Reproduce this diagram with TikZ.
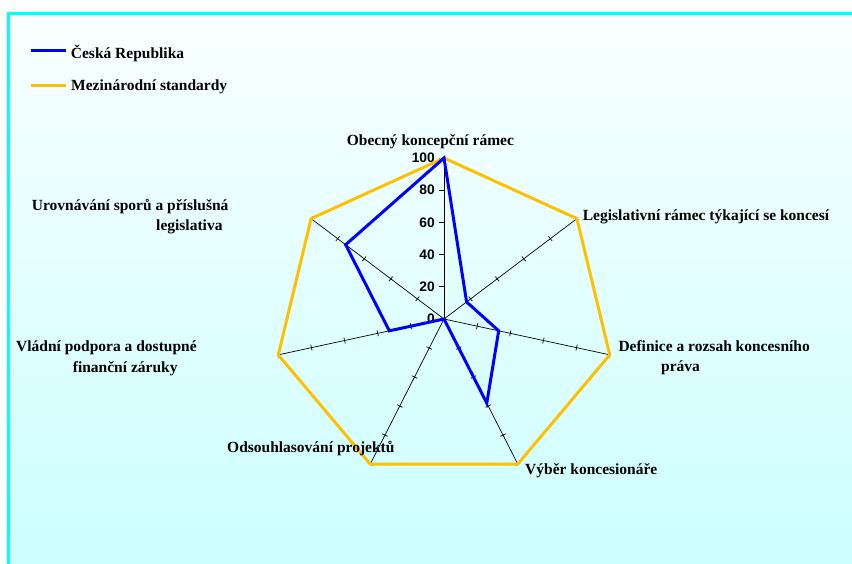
\documentclass[tikz,border=0pt]{standalone}
\usepackage{fontspec}
\setmainfont{Liberation Serif}
\newfontfamily\numfont{Liberation Sans}
\definecolor{intlyellow}{RGB}{255,192,0}
\definecolor{czblue}{RGB}{0,0,255}
\definecolor{bordercyan}{RGB}{0,255,255}
\definecolor{bgtop}{RGB}{250,255,255}
\definecolor{bgbot}{RGB}{204,255,255}
\begin{document}
\begin{tikzpicture}[x=1pt,y=-1pt,
  lab/.style={font=\fontsize{15.5}{17}\selectfont\bfseries, inner sep=0pt, anchor=base west},
  num/.style={font=\numfont\fontsize{13.8}{15}\selectfont\bfseries, anchor=east, inner sep=0pt},
  axisline/.style={black, line width=0.7pt},
  tickmark/.style={black, line width=0.7pt},
  czline/.style={draw=czblue, line width=3pt, line join=miter},
  intlline/.style={draw=intlyellow, line width=3pt, line join=miter}]
\useasboundingbox (0,0) rectangle (852,563);
\clip (0,0) rectangle (852,563);
\fill[white] (0,0) rectangle (852,563);
\shade[top color=bgtop, bottom color=bgbot] (8.7,13.4) rectangle (852,563);
\draw[bordercyan, line width=2.7pt] (8.7,600) -- (8.7,13.4) -- (900,13.4);

% legend
\coordinate (lb1) at (31,50);
\coordinate (lb2) at (66,50);
\coordinate (ly1) at (31,85.3);
\coordinate (ly2) at (66,85.3);
\draw[czblue, line width=3pt] (lb1) -- (lb2);
\draw[intlyellow, line width=3pt] (ly1) -- (ly2);
\node[lab] (legcz) at (70.7,58) {Česká Republika};
\node[lab] (legint) at (71,90.5) {Mezinárodní standardy};

% radar geometry
\coordinate (c) at (444,319);
\foreach \k in {0,...,6} {
  \coordinate (o\k) at ({444+170*sin(\k*360/7)}, {319-161*cos(\k*360/7)});
}
\foreach \k/\v in {0/100,1/17,2/33,3/58,4/0,5/33,6/74} {
  \coordinate (d\k) at ({444+1.7*\v*sin(\k*360/7)}, {319-1.61*\v*cos(\k*360/7)});
}

% axes
\foreach \k in {0,...,6} \draw[axisline] (c) -- (o\k);
% ticks on axes 1..6
\foreach \k in {1,...,6} {
  \foreach \v in {20,40,60,80,100} {
    \pgfmathsetmacro{\a}{\k*360/7}
    \draw[tickmark] ({444+1.7*\v*sin(\a)+3*cos(\a)}, {319-1.61*\v*cos(\a)+3*sin(\a)})
      -- ({444+1.7*\v*sin(\a)-3*cos(\a)}, {319-1.61*\v*cos(\a)-3*sin(\a)});
  }
}
% value axis
\foreach \v in {0,20,40,60,80,100} {
  \draw[tickmark] (439,{319-1.61*\v}) -- (444,{319-1.61*\v});
  \node[num] at (435,{319-1.61*\v}) {\v};
}

% series
\draw[intlline] (o0) -- (o1) -- (o2) -- (o3) -- (o4) -- (o5) -- (o6) -- cycle;
\draw[czline] (d0) -- (d1) -- (d2) -- (d3) -- (d4) -- (d5) -- (d6) -- cycle;

% category labels
\node[lab] (l0) at (346.7,145.7) {Obecný koncepční rámec};
\node[lab] (l1) at (582.7,220.7) {Legislativní rámec týkající se koncesí};
\node[lab] (l2a) at (618.3,351.7) {Definice a rozsah koncesního};
\node[lab] (l2b) at (661,371.5) {práva};
\node[lab] (l3) at (525,474.5) {Výběr koncesionáře};
\node[lab] (l4) at (227,452.7) {Odsouhlasování projektů};
\node[lab] (l5a) at (16,351.7) {Vládní podpora a dostupné};
\node[lab] (l5b) at (72.7,372) {finanční záruky};
\node[lab] (l6a) at (31.7,210.7) {Urovnávání sporů a příslušná};
\node[lab] (l6b) at (156,230) {legislativa};
\end{tikzpicture}
\end{document}
